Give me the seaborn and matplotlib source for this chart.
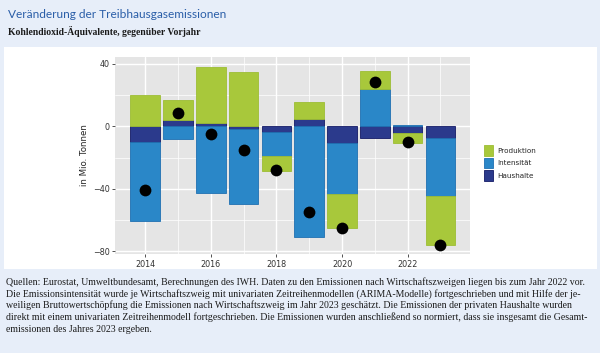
import numpy as np
import pandas as pd
import matplotlib
matplotlib.use("Agg")
import matplotlib.pyplot as plt
from matplotlib.patches import Patch, Rectangle
from matplotlib.ticker import MultipleLocator
import seaborn as sns

years = [2014, 2015, 2016, 2017, 2018, 2019, 2020, 2021, 2022, 2023]
produktion = [20, 13, 36, 34.5, -9.2, 11, -22.1, 11.9, -6, -31.9]
intensitaet = [-51, -8.3, -42.8, -47.6, -15.5, -71, -32.3, 23.6, 0.8, -36.9]
haushalte = [-9.8, 4, 1.9, -1.9, -3.6, 4.7, -10.9, -7.4, -4.5, -7.4]
gesamt = [-40.6, 8.5, -4.7, -14.9, -28, -55, -65.3, 28.1, -9.7, -76.2]
series_names = ["Produktion", "Intensität", "Haushalte"]
xtick_labels = ["2014", "2016", "2018", "2020", "2022"]
ytick_values = [40, 0, -40, -80]

colors = {"Produktion": "#a8c83b", "Intensität": "#2a87c8", "Haushalte": "#2b3a8c"}
edges = {"Produktion": "#9dbd35", "Intensität": "#1f70b2", "Haushalte": "#141a66"}

sns.set_theme(style="darkgrid")

fig = plt.figure(figsize=(6.0, 3.53), dpi=100)
fig.patch.set_facecolor("#e7eef9")
# white panel box
fig.patches.append(Rectangle((4/600, 1-269/353), 593/600, 222/353, transform=fig.transFigure,
                             facecolor="white", edgecolor="none", zorder=-5))

ax = fig.add_axes([115/600, 1-254/353, 355/600, 197/353])
ax.set_zorder(2)
ax.set_facecolor("#e5e5e5")

df = pd.DataFrame({"Jahr": years, "Produktion": produktion,
                   "Intensität": intensitaet, "Haushalte": haushalte})
pos_base = np.zeros(len(years))
neg_base = np.zeros(len(years))
for name in ["Haushalte", "Intensität", "Produktion"]:
    vals = df[name].to_numpy(dtype=float)
    bottoms = np.where(vals >= 0, pos_base, neg_base)
    ax.bar(df["Jahr"], vals, bottom=bottoms, width=0.9, color=colors[name],
           edgecolor=edges[name], linewidth=0.6, zorder=3)
    pos_base = pos_base + np.where(vals >= 0, vals, 0)
    neg_base = neg_base + np.where(vals < 0, vals, 0)

sns.scatterplot(x=years, y=gesamt, ax=ax, color="black", s=72, edgecolor="black",
                linewidth=0, zorder=5, legend=False)

ax.set_xlim(2013.08, 2023.9)
ax.set_ylim(-81.7, 44.4)
ax.set_xticks([int(t) for t in xtick_labels])
ax.set_xticklabels(xtick_labels)
ax.set_yticks(ytick_values)
ax.set_yticklabels([str(v).replace("-", "−") for v in ytick_values])
ax.xaxis.set_minor_locator(MultipleLocator(1))
ax.yaxis.set_minor_locator(MultipleLocator(20))
ax.grid(which="major", color="white", linewidth=1.0)
ax.grid(which="minor", color="white", linewidth=0.5)
ax.set_axisbelow(True)
for s in ax.spines.values():
    s.set_visible(False)
ax.tick_params(axis="both", which="major", labelsize=5.8, colors="#333333",
               length=2.5, width=0.6, pad=1.5, labelcolor="#333333")
ax.tick_params(axis="both", which="minor", length=0)
ax.tick_params(bottom=True, left=True)
ax.set_xlabel("")
ax.set_ylabel("in Mio. Tonnen", fontsize=6.2, color="#222222", labelpad=3)

handles = [Patch(facecolor=colors[n], edgecolor=edges[n], linewidth=0.6) for n in series_names]
leg = fig.legend(handles, series_names, loc="center left", bbox_to_anchor=(477/600, 1-163/353),
                 frameon=False, fontsize=5.2, handlelength=1.3, handleheight=1.9,
                 labelspacing=0.25, handletextpad=0.6)

fig.text(8/600, 1-15/353, "Veränderung der Treibhausgasemissionen", fontsize=8.6,
         family="Lato", color="#2a5ea8", va="center", ha="left")
fig.text(8/600, 1-31/353, "Kohlendioxid-Äquivalente, gegenüber Vorjahr", fontsize=6.9,
         family="Liberation Serif", fontweight="bold", color="#1a1a1a", va="center", ha="left")

foot = [
    "Quellen: Eurostat, Umweltbundesamt, Berechnungen des IWH. Daten zu den Emissionen nach Wirtschaftszweigen liegen bis zum Jahr 2022 vor.",
    "Die Emissionsintensität wurde je Wirtschaftszweig mit univariaten Zeitreihenmodellen (ARIMA-Modelle) fortgeschrieben und mit Hilfe der je-",
    "weiligen Bruttowertschöpfung die Emissionen nach Wirtschaftszweig im Jahr 2023 geschätzt. Die Emissionen der privaten Haushalte wurden",
    "direkt mit einem univariaten Zeitreihenmodell fortgeschrieben. Die Emissionen wurden anschließend so normiert, dass sie insgesamt die Gesamt-",
    "emissionen des Jahres 2023 ergeben.",
]
for i, line in enumerate(foot):
    fig.text(6/600, 1-(282 + i*11.8)/353, line, fontsize=7.1, family="Liberation Serif",
             color="#1a1a1a", va="center", ha="left")

fig.savefig("out.png", dpi=100, facecolor=fig.get_facecolor())
